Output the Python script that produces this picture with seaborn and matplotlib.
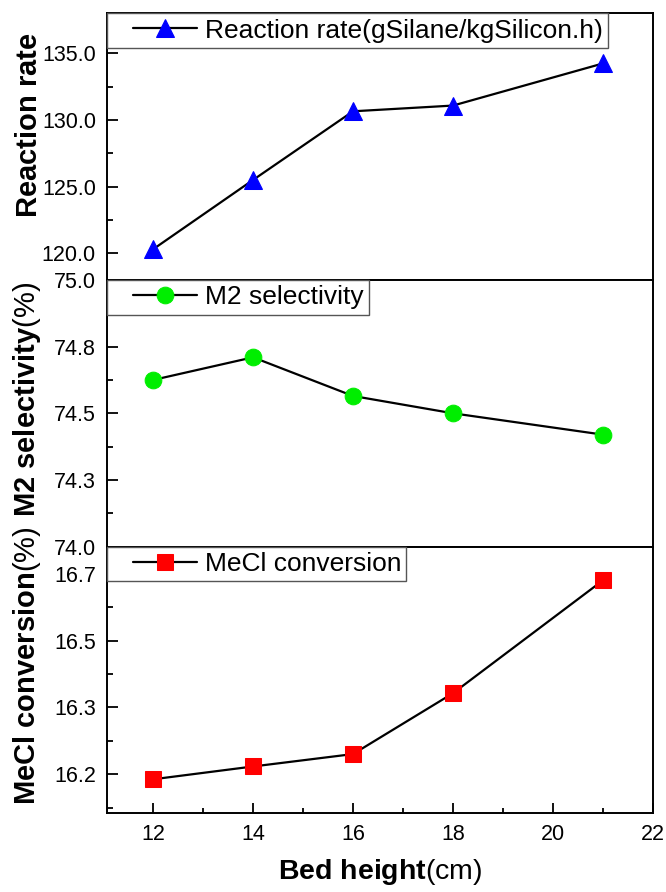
import matplotlib
matplotlib.use('Agg')
import numpy as np
import matplotlib.pyplot as plt
import seaborn as sns
from matplotlib.lines import Line2D
from matplotlib.legend_handler import HandlerLine2D
from matplotlib.ticker import FixedLocator, MultipleLocator

# data
bed_height = [12, 14, 16, 18, 21]
reaction_rate = [120.3, 125.5, 130.65, 131.08, 134.24]
m2_selectivity = [74.625, 74.71, 74.565, 74.50, 74.42]
mecl_conversion = [16.154, 16.186, 16.217, 16.369, 16.651]

x_ticks = [12, 14, 16, 18, 20, 22]
rate_ticks = [120, 125, 130, 135]
rate_labels = ['120.0', '125.0', '130.0', '135.0']
sel_ticks = [74.0, 74.25, 74.5, 74.75, 75.0]
sel_labels = ['74.0', '74.3', '74.5', '74.8', '75.0']
conv_ticks = [16.1667, 16.3333, 16.5, 16.6667]
conv_labels = ['16.2', '16.3', '16.5', '16.7']

sns.set_style('ticks')
plt.rcParams['font.family'] = ['Liberation Sans', 'DejaVu Sans']
plt.rcParams['mathtext.fontset'] = 'custom'
plt.rcParams['mathtext.rm'] = 'Liberation Sans'
plt.rcParams['mathtext.bf'] = 'Liberation Sans:bold'
plt.rcParams['mathtext.it'] = 'Liberation Sans:italic'
for k in ['text.color', 'axes.labelcolor', 'xtick.color', 'ytick.color',
          'xtick.labelcolor', 'ytick.labelcolor', 'axes.edgecolor']:
    plt.rcParams[k] = 'black'


class PaddedLine(HandlerLine2D):
    # leaves some blank room before the legend line, like Origin does
    def create_artists(self, legend, orig_handle, xdescent, ydescent, width,
                       height, fontsize, trans):
        pad = 0.8 * fontsize
        return super().create_artists(legend, orig_handle, xdescent - pad, ydescent,
                                      width - pad, height, fontsize, trans)


fig, axes = plt.subplots(3, 1, figsize=(6.66, 8.92), dpi=100, sharex=True)
fig.subplots_adjust(left=0.1607, right=0.9805, top=0.9851, bottom=0.0882, hspace=0)

panels = [
    dict(y=reaction_rate, marker='^', color='#0000ff', ms=13,
         label='Reaction rate(gSilane/kgSilicon.h)',
         ylabel=r'$\mathbf{Reaction\ rate}$', ylim=(118, 138),
         ticks=rate_ticks, labels=rate_labels, minor=[122.5, 127.5, 132.5, 137.5], ly=0.58),
    dict(y=m2_selectivity, marker='o', color='#00ee00', ms=12,
         label='M2 selectivity',
         ylabel=r'$\mathbf{M2\ selectivity}$(%)', ylim=(74.0, 75.0),
         ticks=sel_ticks, labels=sel_labels, minor=[74.125, 74.375, 74.625, 74.875], ly=0.55),
    dict(y=mecl_conversion, marker='s', color='#ff0000', ms=11,
         label='MeCl conversion',
         ylabel=r'$\mathbf{MeCl\ conversion}$(%)', ylim=(16.069, 16.735),
         ticks=conv_ticks, labels=conv_labels, minor=[16.0833, 16.25, 16.4167, 16.5833], ly=0.552),
]

for ax, p in zip(axes, panels):
    sns.lineplot(x=bed_height, y=p['y'], ax=ax, color='black', linewidth=1.6,
                 marker=p['marker'], markersize=p['ms'], markerfacecolor=p['color'],
                 markeredgecolor=p['color'], label=p['label'])
    ax.set_ylim(*p['ylim'])
    ax.yaxis.set_major_locator(FixedLocator(p['ticks']))
    ax.set_yticklabels(p['labels'])
    ax.yaxis.set_minor_locator(FixedLocator(p['minor']))
    ax.set_ylabel(p['ylabel'], fontsize=21)
    ax.yaxis.set_label_coords(-0.118, p['ly'])
    ax.tick_params(axis='y', which='major', direction='in', length=8, width=1.3,
                   labelsize=15.5, pad=8)
    ax.tick_params(axis='y', which='minor', direction='in', length=4.5, width=1.3)
    for s in ax.spines.values():
        s.set_visible(True)
        s.set_linewidth(1.4)
        s.set_color('black')
    leg = ax.legend(loc='upper left', borderaxespad=0, borderpad=0.2, fontsize=19,
                    handlelength=3.2, handletextpad=0.3, fancybox=False, framealpha=1,
                    edgecolor='#555555', handler_map={Line2D: PaddedLine()})
    leg.get_frame().set_linewidth(1.0)

for ax in axes[:2]:
    ax.tick_params(axis='x', which='both', bottom=False, labelbottom=False)

ax = axes[2]
ax.set_xlim(11.08, 22)
ax.set_xticks(x_ticks)
ax.xaxis.set_minor_locator(MultipleLocator(1))
ax.tick_params(axis='x', which='major', direction='in', length=7.5, width=1.3,
               labelsize=15.5, pad=8)
ax.tick_params(axis='x', which='minor', direction='in', length=3.5, width=1.3)
ax.set_xlabel(r'$\mathbf{Bed\ height}$(cm)', fontsize=20.5)
ax.xaxis.set_label_coords(0.5, -0.165)

fig.savefig('out.png', dpi=100)
